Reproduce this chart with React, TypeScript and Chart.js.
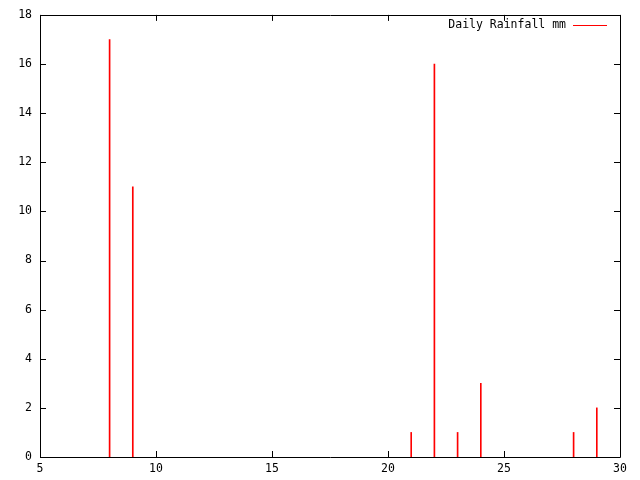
import { useEffect, useRef } from "react";
import { Chart, registerables } from "chart.js";

Chart.register(...registerables);

const days = [8, 9, 21, 22, 23, 24, 28, 29];
const rainfall = [17, 11, 1, 16, 1, 3, 1, 2];
const seriesLabel = "Daily Rainfall mm";
const xRange = [5, 30];
const xStep = 5;
const yRange = [0, 18];
const yStep = 2;

const FONT = "'DejaVu Sans Mono', monospace";
const RED = "#ff0000";

// gnuplot-style frame: box border, inward mirrored ticks, key in top right
const gnuplotFrame = {
  id: "gnuplotFrame",
  afterDraw(chart: Chart) {
    const { ctx, chartArea: a, scales } = chart;
    const tl = 6;
    ctx.save();
    ctx.strokeStyle = "#000";
    ctx.lineWidth = 1;
    ctx.beginPath();
    ctx.rect(Math.round(a.left) + 0.5, Math.round(a.top) + 0.5, Math.round(a.right - a.left), Math.round(a.bottom - a.top));
    ctx.stroke();

    ctx.beginPath();
    scales.x.ticks.forEach((t) => {
      const px = Math.round(scales.x.getPixelForValue(t.value)) + 0.5;
      ctx.moveTo(px, a.bottom);
      ctx.lineTo(px, a.bottom - tl);
      ctx.moveTo(px, a.top);
      ctx.lineTo(px, a.top + tl);
    });
    scales.y.ticks.forEach((t) => {
      const py = Math.round(scales.y.getPixelForValue(t.value)) + 0.5;
      ctx.moveTo(a.left, py);
      ctx.lineTo(a.left + tl, py);
      ctx.moveTo(a.right, py);
      ctx.lineTo(a.right - tl, py);
    });
    ctx.stroke();

    // key
    const ky = Math.round(a.top + 10);
    const lineEnd = Math.round(a.right - 13);
    const lineStart = lineEnd - 34;
    ctx.font = `11.5px ${FONT}`;
    ctx.fillStyle = "#000";
    ctx.textAlign = "right";
    ctx.textBaseline = "middle";
    ctx.fillText(seriesLabel, lineStart - 7, ky);
    ctx.fillStyle = RED;
    ctx.fillRect(lineStart, ky, lineEnd - lineStart, 1);
    ctx.restore();
  },
};

export default function App() {
  const ref = useRef<HTMLCanvasElement>(null);

  useEffect(() => {
    document.body.style.margin = "0";
    if (!ref.current) return;
    const chart = new Chart(ref.current, {
      type: "bar",
      data: {
        datasets: [{
          label: seriesLabel,
          data: days.map((d, i) => ({ x: d, y: rainfall[i] })),
          backgroundColor: RED,
          borderWidth: 0,
          barThickness: 1,
        }],
      },
      options: {
        responsive: false,
        animation: false,
        devicePixelRatio: 1,
        layout: { padding: { top: 13, right: 20, left: 0, bottom: 0 } },
        plugins: { legend: { display: false }, tooltip: { enabled: false } },
        scales: {
          x: {
            type: "linear",
            min: xRange[0],
            max: xRange[1],
            offset: false,
            grid: { display: false, drawTicks: false },
            border: { display: false },
            ticks: { stepSize: xStep, color: "#000", padding: 5, maxRotation: 0, font: { family: FONT, size: 11.5 } },
            afterFit: (s: any) => { s.height = 23; },
          },
          y: {
            min: yRange[0],
            max: yRange[1],
            grid: { display: false, drawTicks: false },
            border: { display: false },
            ticks: { stepSize: yStep, color: "#000", padding: 8, font: { family: FONT, size: 11.5 } },
            afterFit: (s: any) => { s.width = 40; },
          },
        },
      },
      plugins: [gnuplotFrame],
    });
    return () => chart.destroy();
  }, []);

  return (
    <div style={{ width: 640, height: 480, background: "#fff" }}>
      <canvas ref={ref} width={640} height={480} role="img" aria-label="Daily rainfall impulses" />
    </div>
  );
}
